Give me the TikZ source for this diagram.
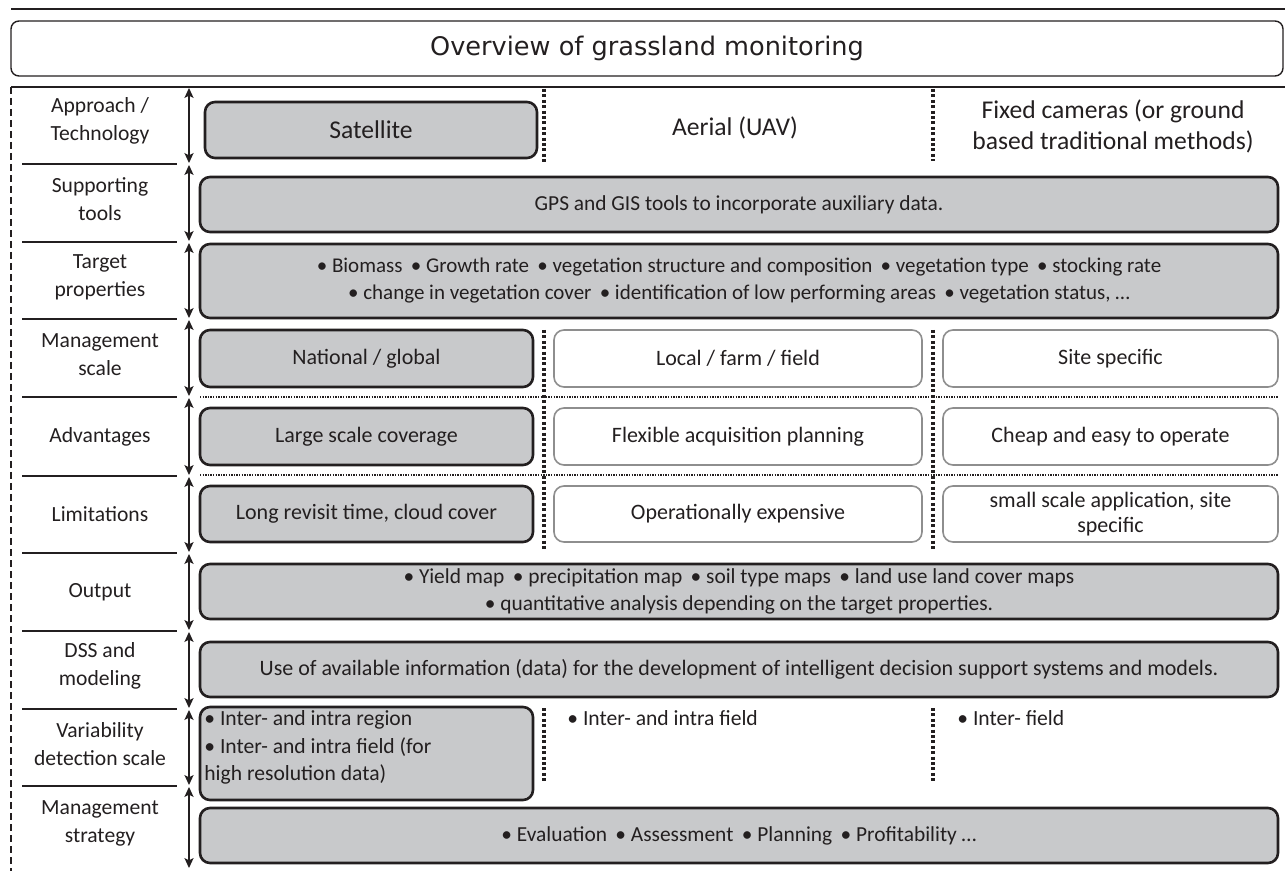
\documentclass[tikz,border=0pt]{standalone}
\usepackage{fontspec}
\setmainfont{Carlito}
\newfontfamily\titlefont{DejaVu Sans}
\usetikzlibrary{arrows.meta}
\definecolor{boxgray}{HTML}{C8C9CB}
\definecolor{ink}{HTML}{231F20}
\definecolor{lightborder}{HTML}{8E8E8E}
\begin{document}
\begin{tikzpicture}[x=0.5pt,y=-0.5pt,
  gbox/.style={draw=ink, line width=1.3pt, fill=boxgray, rounded corners=5pt, inner sep=0pt, align=center, text=ink, font=\fontsize{10.7}{13.5}\selectfont},
  wbox/.style={draw=lightborder, line width=0.8pt, fill=white, rounded corners=5pt, inner sep=0pt, align=center, text=ink, font=\fontsize{11}{12.5}\selectfont},
  toptext/.style={inner sep=0pt, align=center, text=ink, font=\fontsize{12.8}{15.5}\selectfont},
  rowlabel/.style={inner sep=0pt, align=center, text=ink, font=\fontsize{10.8}{14}\selectfont},
  plaintext/.style={inner sep=0pt, align=left, text=ink, font=\fontsize{10.8}{13.8}\selectfont},
  sepline/.style={draw=ink, line width=1pt},
  rowarrow/.style={draw=ink, line width=0.6pt, {Stealth[length=5pt,width=4.6pt,inset=1.2pt]}-{Stealth[length=5pt,width=4.6pt,inset=1.2pt]}},
  vdots/.style={draw=ink, line width=1.6pt, dash pattern=on 1.5pt off 1.2pt},
  hdots/.style={draw=ink, line width=0.7pt, dash pattern=on 0.7pt off 0.6pt}
]
\useasboundingbox (0,0) rectangle (1285,871);

% top rule and title
\coordinate (tl) at (11,9); \coordinate (tr) at (1285,9);
\draw[draw=ink, line width=1pt] (tl) -- (tr);
\node[draw=ink, line width=0.7pt, rounded corners=4pt, minimum width=636pt, minimum height=27.5pt, inner sep=0pt, text=ink, font=\titlefont\fontsize{12.8}{15}\selectfont] (title) at (647,48.5) {Overview of grassland monitoring};
\coordinate (hl) at (11,87); \coordinate (hr) at (1285,87); \coordinate (bl) at (11,871);
\draw[draw=ink, line width=1pt] (hl) -- (hr);
\draw[draw=ink, line width=0.9pt, dash pattern=on 3.5pt off 2pt] (hl) -- (bl);

% row separators in label column
\foreach \yy [count=\i] in {164,242,319,397,476,553,631,709,786} {
  \coordinate (sl\i) at (22,\yy); \coordinate (sr\i) at (177,\yy);
  \draw[sepline] (sl\i) -- (sr\i);
}
% arrows
\foreach \ta/\tb [count=\i] in {88/163,165/241,243/318,320/396,398/475,477/552,554/630,632/708,710/785,787/868} {
  \coordinate (at\i) at (189,\ta); \coordinate (ab\i) at (189,\tb);
  \draw[rowarrow] (at\i) -- (ab\i);
}

% labels
\node[rowlabel] (l1) at (100,121) {Approach /\\Technology};
\node[rowlabel] (l2) at (100,199) {Supporting\\tools};
\node[rowlabel] (l3) at (100,277) {Target\\properties};
\node[rowlabel] (l4) at (100,355) {Management\\scale};
\node[rowlabel] (l5) at (100,437) {Advantages};
\node[rowlabel] (l6) at (100,514) {Limitations};
\node[rowlabel] (l7) at (100,592) {Output};
\node[rowlabel] (l8) at (100,666) {DSS and\\modeling};
\node[rowlabel] (l9) at (100,744) {Variability\\detection scale};
\node[rowlabel] (l10) at (100,823) {Management\\strategy};

% row 1
\node[gbox, minimum width=166pt, minimum height=28pt, font=\fontsize{12.8}{15.5}\selectfont] (sat) at (371,130) {Satellite};
\node[toptext] (uav) at (735,128) {Aerial (UAV)};
\node[toptext] (fix) at (1113,126) {Fixed cameras (or ground\\based traditional methods)};
\coordinate (d1a) at (544,89); \coordinate (d1b) at (544,162);
\coordinate (d2a) at (933,89); \coordinate (d2b) at (933,161);
\draw[vdots] (d1a) -- (d1b);
\draw[vdots] (d2a) -- (d2b);

% row 2
\node[gbox, minimum width=539pt, minimum height=27.5pt] (gps) at (739,204.5) {GPS and GIS tools to incorporate auxiliary data.};

% row 3
\node[gbox, minimum width=539pt, minimum height=37pt, font=\fontsize{10.5}{13.5}\selectfont] (tgt) at (739,281) {\textbullet\ Biomass\ \,\textbullet\ Growth rate\ \,\textbullet\ vegetation structure and composition\ \,\textbullet\ vegetation type\ \,\textbullet\ stocking rate\\\textbullet\ change in vegetation cover\ \,\textbullet\ identification of low performing areas\ \,\textbullet\ vegetation status, …};

% rows 4-6
\node[gbox, minimum width=166.5pt, minimum height=28.5pt, font=\fontsize{11}{12.5}\selectfont] (m1) at (366.5,358.5) {National / global};
\node[wbox, minimum width=184pt, minimum height=28.5pt] (m2) at (738,358.5) {Local / farm / field};
\node[wbox, minimum width=167.5pt, minimum height=28.5pt] (m3) at (1110.5,358.5) {Site specific};

\node[gbox, minimum width=166.5pt, minimum height=28.5pt, font=\fontsize{11}{12.5}\selectfont] (a1) at (366.5,436.5) {Large scale coverage};
\node[wbox, minimum width=184pt, minimum height=28.5pt] (a2) at (738,436.5) {Flexible acquisition planning};
\node[wbox, minimum width=167.5pt, minimum height=28.5pt] (a3) at (1110.5,436.5) {Cheap and easy to operate};

\node[gbox, minimum width=166.5pt, minimum height=28pt, font=\fontsize{11}{12.5}\selectfont] (s1) at (366.5,514) {Long revisit time, cloud cover};
\node[wbox, minimum width=184pt, minimum height=28pt] (s2) at (738,514) {Operationally expensive};
\node[wbox, minimum width=167.5pt, minimum height=28pt] (s3) at (1110.5,514) {small scale application, site\\specific};

\coordinate (h1a) at (200,397); \coordinate (h1b) at (1278,397);
\coordinate (h2a) at (200,475); \coordinate (h2b) at (1278,475);
\draw[hdots] (h1a) -- (h1b);
\draw[hdots] (h2a) -- (h2b);
\coordinate (d3a) at (544,330); \coordinate (d3b) at (544,550);
\coordinate (d4a) at (933,330); \coordinate (d4b) at (933,550);
\draw[vdots] (d3a) -- (d3b);
\draw[vdots] (d4a) -- (d4b);

% row 7
\node[gbox, minimum width=539pt, minimum height=27.5pt] (out) at (739,591.5) {\textbullet\ Yield map\ \,\textbullet\ precipitation map\ \,\textbullet\ soil type maps\ \,\textbullet\ land use land cover maps\\\textbullet\ quantitative analysis depending on the target properties.};

% row 8
\node[gbox, minimum width=539pt, minimum height=27.5pt, font=\fontsize{11}{13.5}\selectfont] (dss) at (739,669.5) {Use of available information (data) for the development of intelligent decision support systems and models.};

% row 9
\node[gbox, minimum width=166.5pt, minimum height=46.5pt] (v1) at (366.5,753.5) {};
\node[plaintext, anchor=north west] (v1t) at (204,710) {\textbullet\ Inter- and intra region\\\textbullet\ Inter- and intra field (for\\high resolution data)};
\node[plaintext, anchor=north west] (v2t) at (567,710) {\textbullet\ Inter- and intra field};
\node[plaintext, anchor=north west] (v3t) at (957,710) {\textbullet\ Inter- field};
\coordinate (d5a) at (544,708); \coordinate (d5b) at (544,783);
\coordinate (d6a) at (933,708); \coordinate (d6b) at (933,783);
\draw[vdots] (d5a) -- (d5b);
\draw[vdots] (d6a) -- (d6b);

% row 10
\node[gbox, minimum width=539pt, minimum height=27.5pt] (mgt) at (739,835.5) {\textbullet\ Evaluation\ \,\textbullet\ Assessment\ \,\textbullet\ Planning\ \,\textbullet\ Profitability …};
\end{tikzpicture}
\end{document}
